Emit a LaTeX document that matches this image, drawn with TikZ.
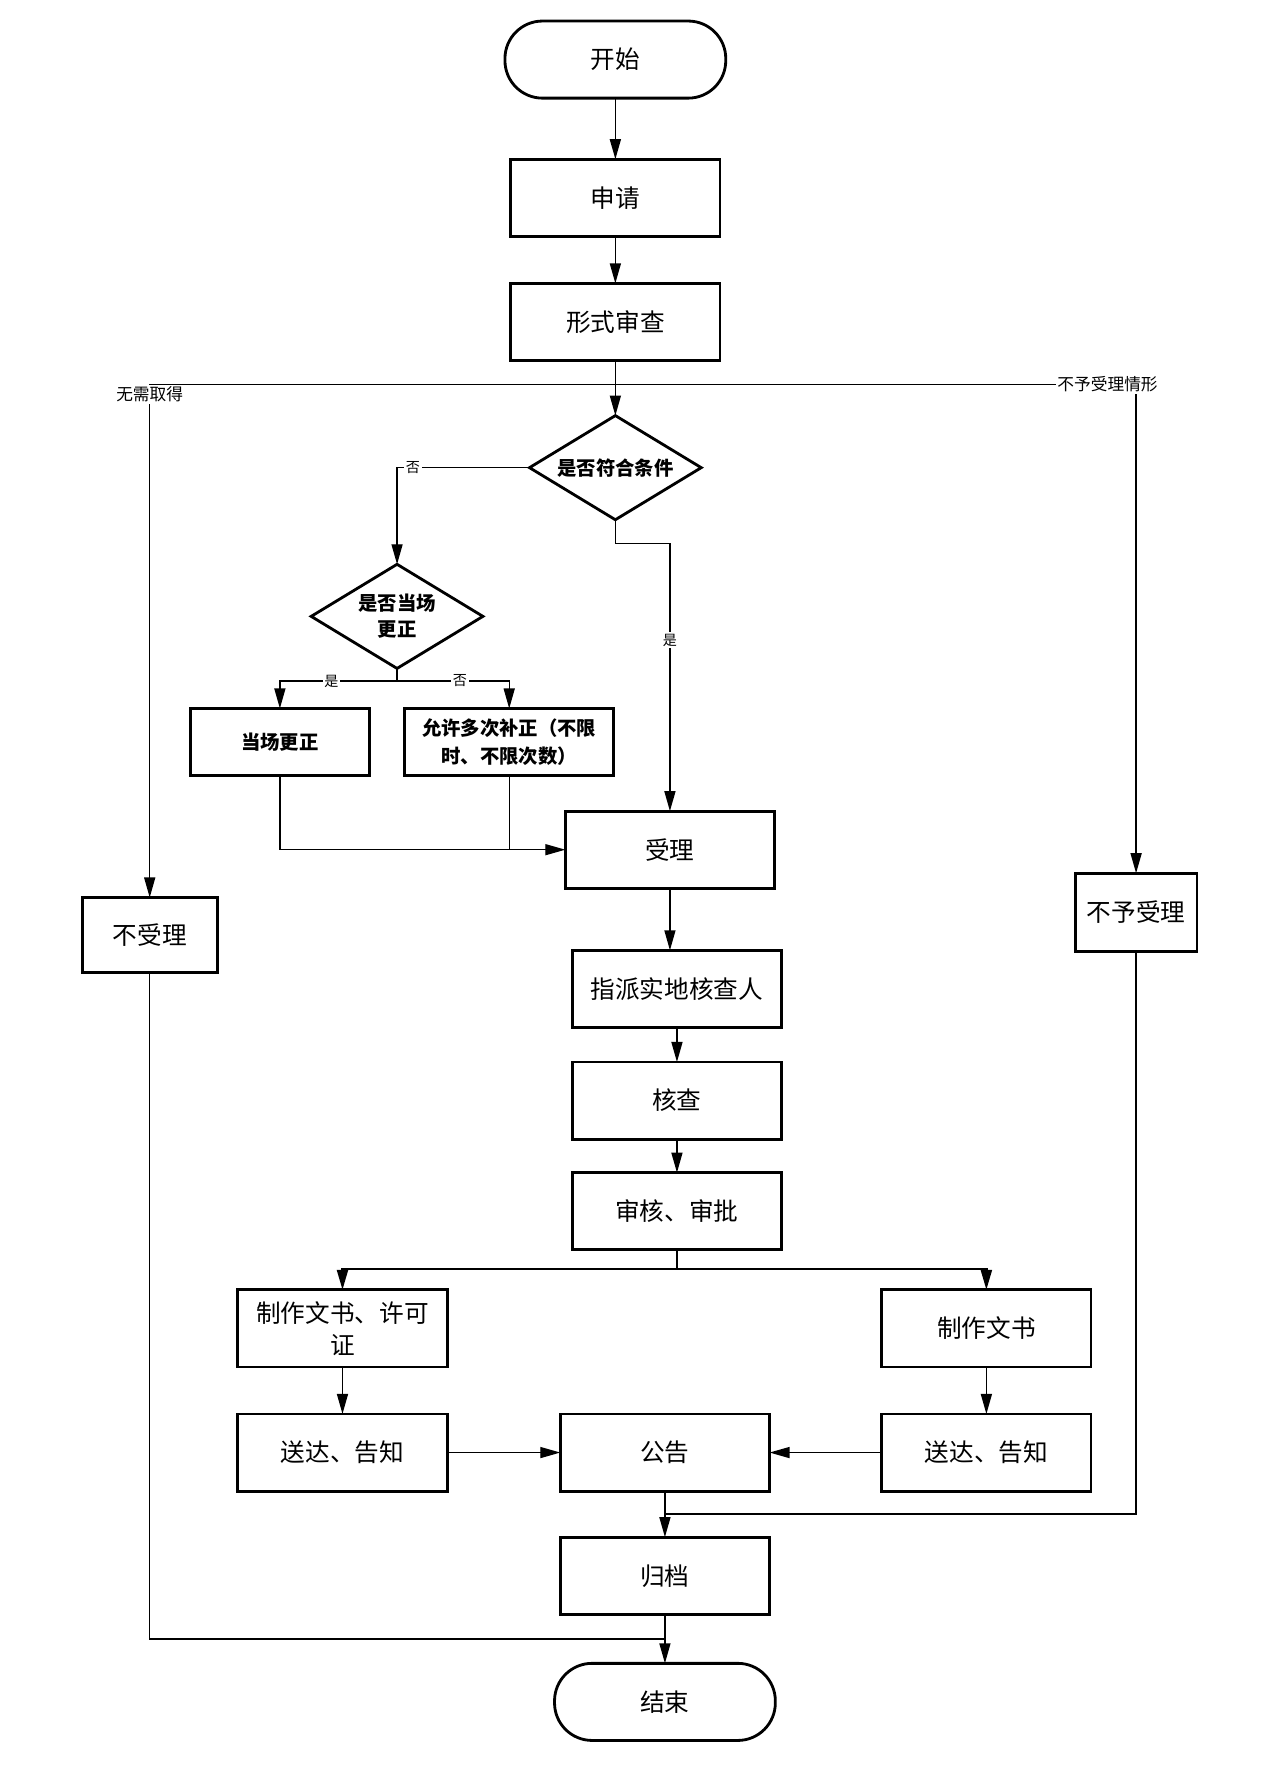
\documentclass[tikz,border=0pt]{standalone}
\usepackage{fontspec}
\setmainfont{Noto Sans CJK SC}
\usetikzlibrary{arrows.meta,calc,positioning,shapes.geometric}

\begin{document}
\begin{tikzpicture}[>={Triangle[length=0.4cm,width=0.22cm]}, line width=0.8pt, align=center,
	proc/.style={draw, line width=1.6pt, outer sep=0pt, minimum width=4.18cm, minimum height=1.54cm, font=\fontsize{14}{18}\selectfont},
	term/.style={proc, rounded corners=0.75cm, minimum width=4.41cm},
	decide/.style={draw, diamond, aspect=1.63, line width=1.6pt, outer sep=0pt, inner sep=0pt, minimum width=3.43cm, minimum height=2.08cm, font=\bfseries\fontsize{11}{15}\selectfont},
	small/.style={draw, line width=1.6pt, outer sep=0pt, minimum height=1.33cm, font=\bfseries\fontsize{11}{16}\selectfont},
	lbl/.style={fill=white, inner sep=1pt, font=\fontsize{8}{9}\selectfont},
	buslbl/.style={lbl, font=\fontsize{9.5}{11}\selectfont}]
		\useasboundingbox (0,0) rectangle (25.47,-35.73);
		\node[term] (start) at (12.29,-1.19) {开始};
		\node[proc] [below=1.22cm of start] (apply) {申请};
		\node[proc] [below=0.94cm of apply] (review) {形式审查};
		\node[decide] [below=1.10cm of review] (cond) {是否符合条件};
		\node[decide] [below=0.89cm of cond, xshift=-4.36cm] (onsite) {是否当场\\更正};
		\node[small, minimum width=3.57cm] [below=0.80cm of onsite, xshift=-2.34cm] (fix) {当场更正};
		\node[small, minimum width=4.18cm] [below=0.80cm of onsite, xshift=2.24cm] (multi) {允许多次补正（不限\\时、不限次数）};
		\node[proc] [below=5.82cm of cond, xshift=1.09cm] (accept) {受理};
		\node[proc, minimum width=2.70cm, minimum height=1.49cm] (reject) at (2.99,-18.67) {不受理};
		\node[proc, minimum width=2.43cm, minimum height=1.56cm] (refuse) at (22.69,-18.22) {不予受理};
		\node[proc] [below=1.24cm of accept, xshift=0.14cm] (assign) {指派实地核查人};
		\node[proc] [below=0.69cm of assign] (check) {核查};
		\node[proc] [below=0.67cm of check] (approve) {审核、审批};
		\node[proc] [below=0.80cm of approve, xshift=-6.68cm] (docL) {制作文书、许可\\证};
		\node[proc] [below=0.80cm of approve, xshift=6.18cm] (docR) {制作文书};
		\node[proc] [below=0.94cm of docL] (sendL) {送达、告知};
		\node[proc] [below=0.94cm of docR] (sendR) {送达、告知};
		\node[proc] [right=2.26cm of sendL] (notice) {公告};
		\node[proc] [below=0.92cm of notice] (archive) {归档};
		\node[term] [below=0.98cm of archive] (stop) {结束};
		\path[->]
			(start) edge (apply)
			(apply) edge (review)
			(review) edge (cond)
			(accept.south) edge (accept.south |- assign.north)
			(assign) edge (check)
			(check) edge (approve)
			(docL) edge (sendL)
			(docR) edge (sendR)
			(sendL) edge (notice)
			(sendR) edge (notice)
			(notice) edge (archive)
			(archive) edge (stop);
		% branches off the review line
		\coordinate (bus) at ($(review.south)+(0,-0.48)$);
		\draw[->] (bus) -| node[buslbl, yshift=-0.2cm] {无需取得} (reject);
		\draw[->] (bus) -| node[buslbl, xshift=-0.57cm] {不予受理情形} (refuse);
		\draw[->] (cond.west) -| node[lbl, pos=0.44] {否} (onsite);
		\draw[->] (cond.south) -- ++(0,-0.48) -| node[lbl, pos=0.68] {是} (accept);
		\draw (onsite.south) -- ++(0,-0.25) coordinate (osplit);
		\draw[->] (osplit) -| node[lbl, pos=0.28] {是} (fix);
		\draw[->] (osplit) -| node[lbl, pos=0.28] {否} (multi);
		\draw[->] (fix.south) |- (accept.west);
		\draw (multi.south) -- (multi.south |- accept.west);
		\draw[line width=1.3pt] (approve.south) -- ++(0,-0.39) coordinate (asplit);
		\draw[->, line width=1.3pt] (asplit) -| (docL);
		\draw[->, line width=1.3pt] (asplit) -| (docR);
		% joins into the end of the flow
		\draw (refuse.south) |- ($(notice.south)!0.5!(archive.north)$);
		\draw (reject.south) |- ($(archive.south)!0.5!(stop.north)$);
\end{tikzpicture}
\end{document}
